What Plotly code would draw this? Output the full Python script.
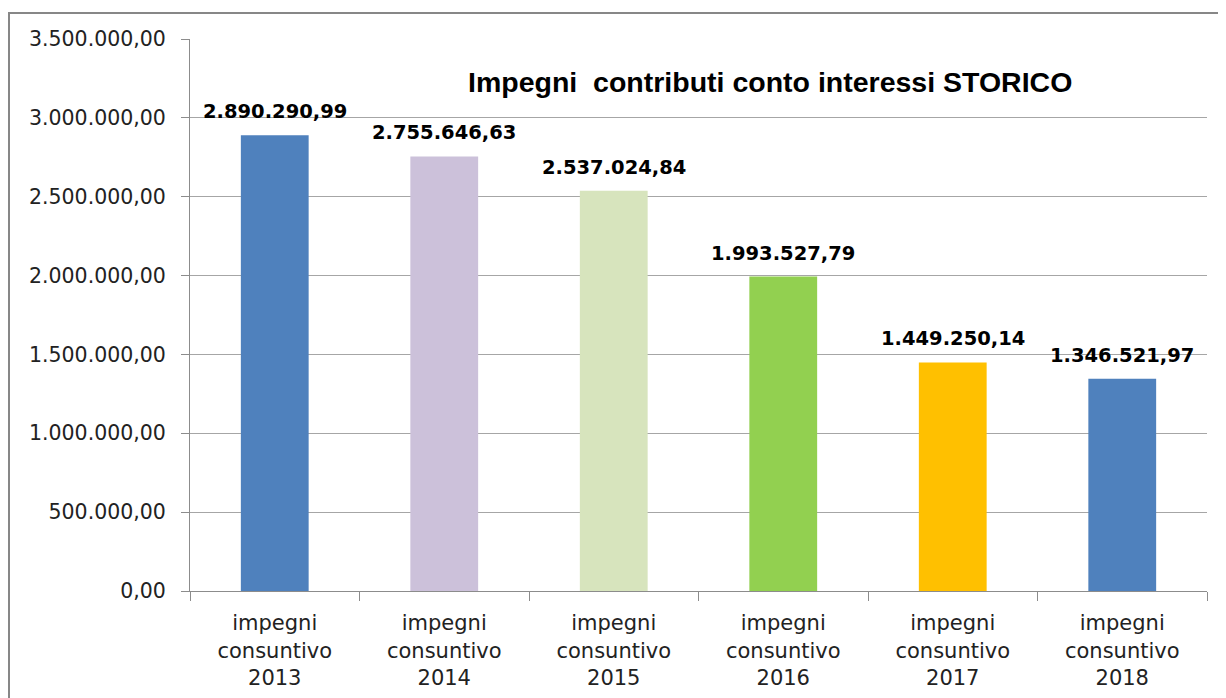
import plotly.graph_objects as go

categories = ["impegni<br>consuntivo<br>2013", "impegni<br>consuntivo<br>2014", "impegni<br>consuntivo<br>2015",
              "impegni<br>consuntivo<br>2016", "impegni<br>consuntivo<br>2017", "impegni<br>consuntivo<br>2018"]
values = [2890290.99, 2755646.63, 2537024.84, 1993527.79, 1449250.14, 1346521.97]
colors = ["#4F81BD", "#CCC1DA", "#D7E4BD", "#92D050", "#FFC000", "#4F81BD"]
tick_vals = [0, 500000, 1000000, 1500000, 2000000, 2500000, 3000000, 3500000]
title = "Impegni  contributi conto interessi STORICO"


def fmt_it(v):
    s = f"{v:,.2f}"
    return s.replace(",", "X").replace(".", ",").replace("X", ".")


tick_text = [fmt_it(v) for v in tick_vals]
labels = [fmt_it(v) for v in values]

OFF = 8  # page body margin
W, H = 1226, 698
# plot area in page coordinates
PL, PR, PT, PB = 190, 1207, 39, 591
L = PL - OFF
T = PT - OFF
R = W - (PR - OFF)
B = H - (PB - OFF)
pw, ph = W - L - R, H - T - B


def px(x):
    return (x - OFF - L) / pw


def py(y):
    return (H - B - (y - OFF)) / ph


fig = go.Figure()
fig.add_trace(go.Bar(
    x=categories, y=values, marker=dict(color=colors, line=dict(width=0)),
    width=0.4, hoverinfo="skip",
))

annotations = [dict(
    text="<b>" + title + "</b>", x=px(770), y=py(82), xref="paper", yref="paper",
    showarrow=False, xanchor="center", yanchor="middle",
    font=dict(family="Liberation Sans", size=28.5, color="#000000"),
)]
for c, v, lab in zip(categories, values, labels):
    annotations.append(dict(
        text="<b>" + lab + "</b>", x=c, y=v, xref="x", yref="y",
        showarrow=False, xanchor="center", yanchor="bottom", yshift=10,
        font=dict(family="DejaVu Sans", size=19.5, color="#000000"),
    ))

fig.update_layout(
    width=W, height=H,
    margin=dict(l=L, r=R, t=T, b=B),
    paper_bgcolor="white", plot_bgcolor="white",
    showlegend=False,
    xaxis=dict(
        showline=True, linecolor="#8C8C8C", linewidth=1,
        ticks="outside", tickson="boundaries", ticklen=9, tickcolor="#8C8C8C",
        tickfont=dict(family="DejaVu Sans", size=21, color="#222222"),
        ticklabelstandoff=13,
        showgrid=False,
    ),
    yaxis=dict(
        range=[0, 3500000], tickvals=tick_vals, ticktext=tick_text,
        showline=True, linecolor="#8C8C8C", linewidth=1,
        ticks="outside", ticklen=8, tickcolor="#8C8C8C",
        showgrid=True, gridcolor="#A6A6A6", gridwidth=1,
        tickfont=dict(family="DejaVu Sans", size=20.5, color="#222222"),
        ticklabelstandoff=11,
        zeroline=False,
    ),
    annotations=annotations,
    shapes=[dict(
        type="rect", xref="paper", yref="paper",
        x0=px(9), x1=px(1300), y0=py(760), y1=py(13),
        line=dict(color="#878787", width=2), fillcolor="rgba(0,0,0,0)", layer="below",
    )],
)

fig.write_html("out.html")
